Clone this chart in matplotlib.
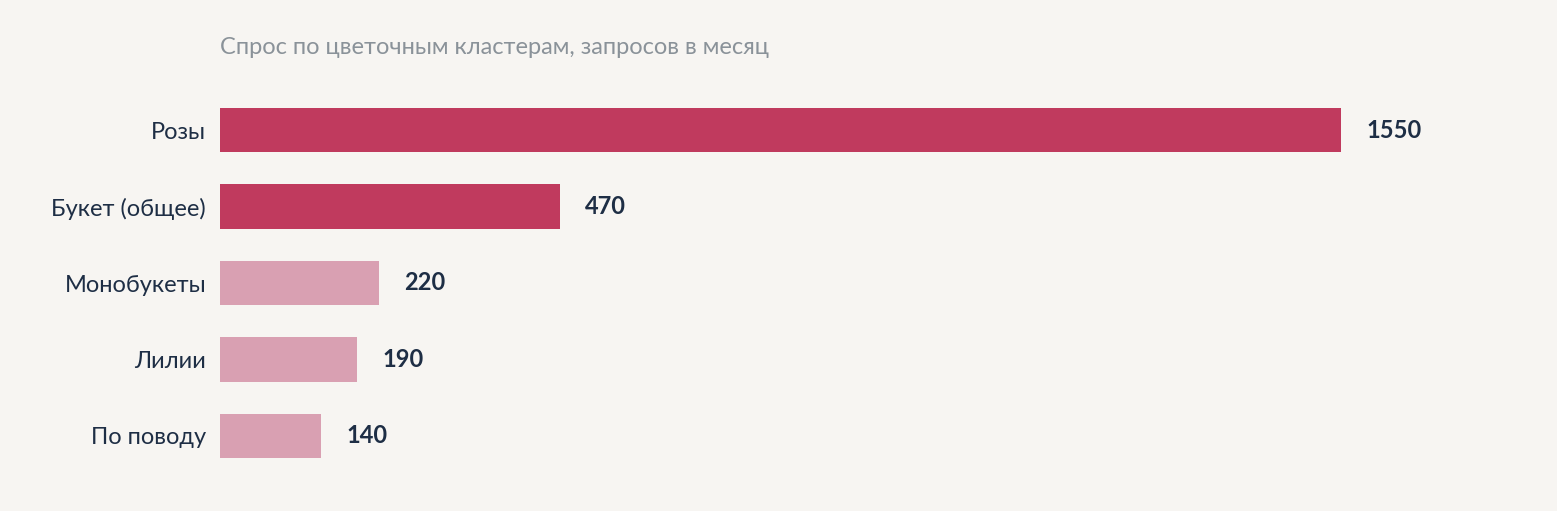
import matplotlib
matplotlib.use("Agg")
import matplotlib.pyplot as plt

categories = ["Розы", "Букет (общее)", "Монобукеты", "Лилии", "По поводу"]
values = [1550, 470, 220, 190, 140]
highlight = [True, True, False, False, False]
title = "Спрос по цветочным кластерам, запросов в месяц"

plt.rcParams['font.family'] = ['Lato', 'DejaVu Sans']
W, H = 1557, 511
fig = plt.figure(figsize=(W/100, H/100), dpi=100, facecolor="#F7F5F2")
ax = fig.add_axes([220/W, 1-474/H, 1302/W, 382/H])
ax.set_facecolor("#F7F5F2")
colors = ["#C03A5E" if h else "#D9A0B2" for h in highlight]
ax.barh(range(len(values)), values, height=0.58, color=colors)
ax.set_ylim(len(values)-0.5, -0.5)
ax.set_xlim(0, 1800)
ax.set_yticks(range(len(values)))
ax.set_yticklabels(categories, fontsize=17, color="#1E2E45")
ax.tick_params(axis='y', length=0, pad=10)
ax.set_xticks([])
for s in ax.spines.values():
    s.set_visible(False)
for i, v in enumerate(values):
    ax.annotate(str(v), (v, i), xytext=(18, 0), textcoords="offset points",
                va="center", ha="left", fontsize=17, fontweight="bold", color="#1E2E45")
fig.text(220/W, 1-48/H, title, fontsize=17, color="#8A9299", va="center", ha="left")
fig.savefig("out.png", dpi=100, facecolor=fig.get_facecolor())
